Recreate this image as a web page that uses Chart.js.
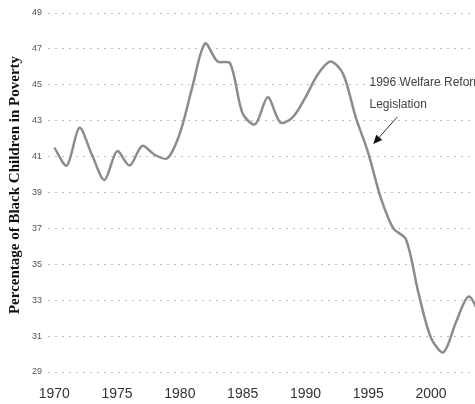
<!DOCTYPE html>
<html lang="en">
<head>
  <meta charset="UTF-8" />
  <title>Black Children in Poverty</title>
  <style>
    html, body { margin: 0; padding: 0; background: #fff; }
    #wrap { width: 475px; height: 404px; }
  </style>
</head>
<body>
  <div id="wrap"><canvas id="povertyChart"></canvas></div>

  <script src="https://cdn.jsdelivr.net/npm/chart.js"></script>
  <script>
    // Data
    const years = [1970, 1971, 1972, 1973, 1974, 1975, 1976, 1977, 1978, 1979,
                   1980, 1981, 1982, 1983, 1984, 1985, 1986, 1987, 1988, 1989,
                   1990, 1991, 1992, 1993, 1994, 1995, 1996, 1997, 1998, 1999,
                   2000, 2001, 2002, 2003, 2004];
    const povertyRate = [41.5, 40.5, 42.6, 41.1, 39.7, 41.3, 40.5, 41.6, 41.1, 40.9,
                         42.3, 44.9, 47.3, 46.3, 46.2, 43.4, 42.8, 44.3, 42.9, 43.2,
                         44.3, 45.6, 46.3, 45.6, 43.2, 41.2, 38.7, 37.0, 36.4, 33.4,
                         30.9, 30.1, 31.8, 33.2, 32.0];
    const xTicks = [1970, 1975, 1980, 1985, 1990, 1995, 2000];
    const yTicks = [29, 31, 33, 35, 37, 39, 41, 43, 45, 47, 49];
    const yTitle = 'Percentage of Black Children in Poverty';
    const noteLines = ['1996 Welfare Reform', 'Legislation'];

    // y-axis title and the welfare reform note
    const extras = {
      id: 'extras',
      afterDraw(chart) {
        const ctx = chart.ctx;
        const x = chart.scales.x;
        const y = chart.scales.y;

        ctx.save();
        ctx.translate(15, 185);
        ctx.rotate(-Math.PI / 2);
        ctx.font = 'bold 15px "Liberation Serif", serif';
        ctx.fillStyle = '#111';
        ctx.textAlign = 'center';
        ctx.textBaseline = 'middle';
        ctx.fillText(yTitle, 0, 0);
        ctx.restore();

        ctx.save();
        ctx.font = '12px "Liberation Sans", Arial, sans-serif';
        ctx.fillStyle = '#444';
        ctx.textAlign = 'left';
        ctx.textBaseline = 'middle';
        ctx.fillText(noteLines[0], x.getPixelForValue(1995.1), y.getPixelForValue(45.1));
        ctx.fillText(noteLines[1], x.getPixelForValue(1995.1), y.getPixelForValue(43.9));

        const x1 = x.getPixelForValue(1997.3), y1 = y.getPixelForValue(43.2);
        const x2 = x.getPixelForValue(1995.4), y2 = y.getPixelForValue(41.7);
        const ang = Math.atan2(y2 - y1, x2 - x1);
        ctx.strokeStyle = '#333';
        ctx.lineWidth = 1;
        ctx.beginPath();
        ctx.moveTo(x1, y1);
        ctx.lineTo(x2 - 5 * Math.cos(ang), y2 - 5 * Math.sin(ang));
        ctx.stroke();
        ctx.fillStyle = '#111';
        ctx.beginPath();
        ctx.moveTo(x2, y2);
        ctx.lineTo(x2 - 9 * Math.cos(ang) + 4 * Math.sin(ang), y2 - 9 * Math.sin(ang) - 4 * Math.cos(ang));
        ctx.lineTo(x2 - 9 * Math.cos(ang) - 4 * Math.sin(ang), y2 - 9 * Math.sin(ang) + 4 * Math.cos(ang));
        ctx.closePath();
        ctx.fill();
        ctx.restore();
      }
    };

    new Chart(document.getElementById('povertyChart'), {
      type: 'line',
      data: {
        datasets: [{
          data: years.map((yr, i) => ({ x: yr, y: povertyRate[i] })),
          borderColor: '#8c8c8c',
          borderWidth: 2.5,
          pointRadius: 0,
          tension: 0.3,
          fill: false
        }]
      },
      options: {
        responsive: true,
        maintainAspectRatio: false,
        animation: false,
        layout: { padding: { top: 13, right: 0, left: 0, bottom: 0 } },
        plugins: {
          legend: { display: false },
          tooltip: { enabled: false }
        },
        scales: {
          x: {
            type: 'linear',
            min: 1969.5,
            max: 2003.5,
            afterBuildTicks: scale => { scale.ticks = xTicks.map(v => ({ value: v })); },
            afterFit: scale => { scale.height = 32; },
            grid: { display: false },
            border: { display: false },
            ticks: {
              color: '#333',
              padding: 6,
              maxRotation: 0,
              font: { family: '"Liberation Sans", Arial, sans-serif', size: 14 },
              callback: v => String(v)
            }
          },
          y: {
            min: 29,
            max: 49,
            afterBuildTicks: scale => { scale.ticks = yTicks.map(v => ({ value: v })); },
            afterFit: scale => { scale.width = 48; },
            grid: { color: '#bdbdbd', lineWidth: 1, drawTicks: false },
            border: { display: false, dash: [2, 5] },
            ticks: {
              color: '#555',
              padding: 6,
              font: { family: '"Liberation Sans", Arial, sans-serif', size: 9 }
            }
          }
        }
      },
      plugins: [extras]
    });
  </script>
</body>
</html>
